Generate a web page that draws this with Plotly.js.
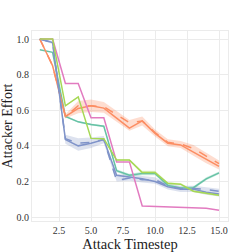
<!DOCTYPE html>
<html><head><meta charset="utf-8">
<script src="https://cdn.plot.ly/plotly-3.0.1.min.js"></script>
<style>html,body{margin:0;padding:0;background:#fff}#c{width:240px;height:252px}</style>
</head><body><div id="c"></div>
<script>
var steps = [1,2,3,4,5,6,7,8,9,10,11,12,13,14,15];
var orangeSolid = [1.0,0.85,0.565,0.61,0.625,0.612,0.556,0.5,0.54,0.47,0.415,0.405,0.365,0.325,0.285];
var orangeDashed = [1.0,0.85,0.565,0.625,0.625,0.62,0.575,0.53,0.54,0.475,0.42,0.41,0.385,0.34,0.3];
var orangeSpread = [0.0,0.01,0.012,0.035,0.035,0.03,0.03,0.03,0.025,0.02,0.02,0.02,0.03,0.03,0.025];
var blueSolid = [1.0,0.98,0.435,0.4,0.415,0.435,0.235,0.225,0.215,0.2,0.17,0.157,0.157,0.14,0.13];
var blueDashed = [1.0,0.98,0.44,0.415,0.42,0.435,0.205,0.22,0.21,0.21,0.175,0.16,0.16,0.155,0.145];
var blueSpread = [0.0,0.01,0.025,0.035,0.03,0.02,0.02,0.018,0.018,0.018,0.018,0.018,0.018,0.022,0.022];
var teal = [0.94,0.925,0.565,0.535,0.52,0.51,0.26,0.235,0.245,0.245,0.178,0.163,0.165,0.215,0.248];
var tealSpread = [0,0,0.005,0.005,0.005,0.005,0.008,0.008,0.01,0.01,0.008,0.008,0.008,0.008,0.008];
var green = [1.0,1.0,0.625,0.675,0.442,0.44,0.32,0.32,0.25,0.25,0.19,0.185,0.145,0.135,0.122];
var greenSpread = [0,0,0.004,0.004,0.004,0.004,0.005,0.005,0.01,0.01,0.006,0.006,0.005,0.005,0.005];
var pink = [1.0,1.0,0.75,0.75,0.558,0.558,0.31,0.31,0.062,0.06,0.058,0.056,0.054,0.05,0.038];
var xTicks = [2.5,5.0,7.5,10.0,12.5,15.0];
var yTicks = [0.0,0.2,0.4,0.6,0.8,1.0];

function band(center, spread, fill){
  var xs = steps.concat(steps.slice().reverse());
  var up = center.map(function(v,i){return v+spread[i];});
  var lo = center.map(function(v,i){return v-spread[i];}).reverse();
  return {x: xs, y: up.concat(lo), fill:'toself', fillcolor: fill, line:{width:0}, mode:'lines', hoverinfo:'skip', showlegend:false};
}
function mean(a,b){return a.map(function(v,i){return (v+b[i])/2;});}
function line(y, color, dash){
  return {x: steps, y: y, mode:'lines', line:{color: color, width:1.5, dash: dash||'solid'}, showlegend:false};
}
var data = [
  band(mean(orangeSolid, orangeDashed), orangeSpread, 'rgba(252,141,98,0.3)'),
  band(mean(blueSolid, blueDashed), blueSpread, 'rgba(141,160,203,0.3)'),
  band(teal, tealSpread, 'rgba(102,194,165,0.3)'),
  band(green, greenSpread, 'rgba(166,216,84,0.3)'),
  line(teal, '#66c2a5'),
  line(orangeSolid, '#fc8d62'),
  line(orangeDashed, '#fc8d62', 'dash'),
  line(blueSolid, '#7f93c9'),
  line(blueDashed, '#7f93c9', 'dash'),
  line(pink, '#e27bc0'),
  line(green, '#a6d854')
];
var layout = {
  width:240, height:252,
  margin:{l:32, r:12, t:31, b:31},
  paper_bgcolor:'#fff', plot_bgcolor:'#fff',
  font:{family:'"Liberation Serif", "DejaVu Serif", serif', color:'#333'},
  xaxis:{range:[0.39,15.7], tickvals:xTicks, ticktext:xTicks.map(function(v){return v.toFixed(1);}),
    tickfont:{size:10}, gridcolor:'#ebebeb', gridwidth:1, zeroline:false, showline:true, linecolor:'#ebebeb', mirror:true, ticks:'',
    title:{text:'Attack Timestep', font:{size:14.5, color:'#222'}, standoff:0}},
  yaxis:{range:[-0.022,1.045], tickvals:yTicks, ticktext:yTicks.map(function(v){return v.toFixed(1);}),
    tickfont:{size:10}, gridcolor:'#ebebeb', gridwidth:1, zeroline:false, showline:true, linecolor:'#ebebeb', mirror:true, ticks:'',
    title:{text:'Attacker Effort', font:{size:14, color:'#222'}, standoff:4}}
};
Plotly.newPlot('c', data, layout, {staticPlot:true, displayModeBar:false});
</script></body></html>
